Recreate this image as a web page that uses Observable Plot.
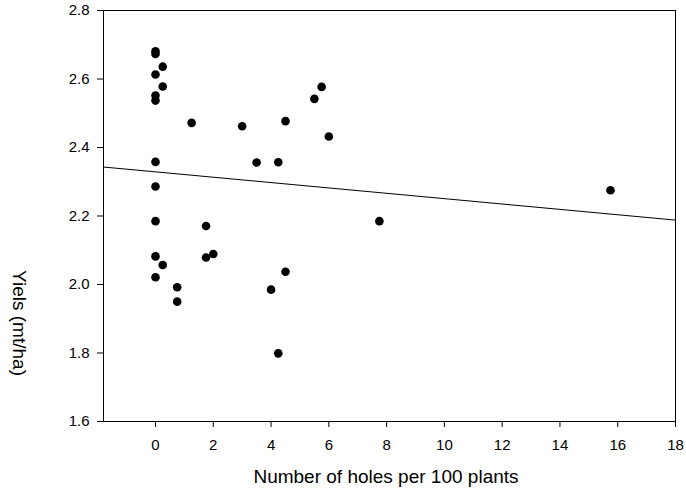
<!DOCTYPE html>
<html>
<head>
<meta charset="utf-8">
<script src="https://cdn.jsdelivr.net/npm/d3@7"></script>
<script src="https://cdn.jsdelivr.net/npm/@observablehq/plot@0.6"></script>
<style>
  html, body { margin: 0; padding: 0; background: #fff; }
  #chart svg { display: block; font-family: "Liberation Sans", Arial, sans-serif; }
</style>
</head>
<body>
<div id="chart"></div>
<script>
// Holes per 100 plants (x) and yield in mt/ha (y)
const holes = [0, 0, 0.25, 0, 0.25, 0, 0, 1.25, 3.0, 4.5, 5.5, 5.75, 6.0, 0, 3.5, 4.25,
  0, 0, 0, 0.25, 0, 0.75, 0.75, 1.75, 1.75, 2.0, 4.0, 4.5, 4.25, 7.75, 15.75];
const yields = [2.681, 2.673, 2.636, 2.613, 2.578, 2.552, 2.537, 2.472, 2.462, 2.477, 2.542, 2.577, 2.432, 2.358, 2.356, 2.357,
  2.286, 2.185, 2.082, 2.057, 2.021, 1.992, 1.950, 2.171, 2.079, 2.089, 1.985, 2.037, 1.799, 2.185, 2.275];
// Regression line end points
const lineX = [-1.8, 18];
const lineY = [2.343, 2.188];
const xTicks = [0, 2, 4, 6, 8, 10, 12, 14, 16, 18];
const yTicks = [1.6, 1.8, 2.0, 2.2, 2.4, 2.6, 2.8];
const xTitle = "Number of holes per 100 plants";
const yTitle = "Yiels (mt/ha)";

const points = holes.map((h, i) => ({x: h, y: yields[i]}));
const fit = lineX.map((v, i) => ({x: v, y: lineY[i]}));

const W = 686, H = 492;
const mL = 103, mR = 11, mT = 10, mB = 71;

const chart = Plot.plot({
  width: W,
  height: H,
  marginLeft: mL,
  marginRight: mR,
  marginTop: mT,
  marginBottom: mB,
  style: {fontFamily: '"Liberation Sans", Arial, sans-serif', background: "white", color: "black"},
  x: {domain: [-1.8, 18]},
  y: {domain: [1.6, 2.8]},
  marks: [
    Plot.frame({stroke: "black", strokeWidth: 1}),
    Plot.axisX({ticks: xTicks, tickSize: 6, tickPadding: 12, fontSize: 15, label: null, tickFormat: d => String(d), stroke: "black"}),
    Plot.axisY({ticks: yTicks, tickSize: 6, tickPadding: 8, fontSize: 15, label: null, tickFormat: d3.format(".1f"), stroke: "black"}),
    Plot.line(fit, {x: "x", y: "y", stroke: "black", strokeWidth: 1}),
    Plot.dot(points, {x: "x", y: "y", r: 4.3, fill: "black", stroke: "none"})
  ]
});

const svg = d3.select(chart);
const cx = mL + (W - mL - mR) / 2;
svg.append("text")
  .attr("x", cx - 3)
  .attr("y", 483)
  .attr("text-anchor", "middle")
  .attr("font-size", 19)
  .attr("fill", "black")
  .text(xTitle);
svg.append("text")
  .attr("transform", "translate(13,323) rotate(90)")
  .attr("text-anchor", "middle")
  .attr("font-size", 19)
  .attr("fill", "black")
  .text(yTitle);

document.getElementById("chart").appendChild(chart);
</script>
</body>
</html>
